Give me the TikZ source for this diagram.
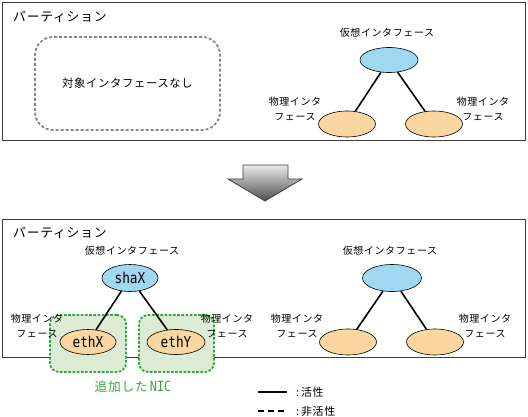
\documentclass[tikz,border=0pt]{standalone}
\usepackage{fontspec}
\newfontfamily\jp[LetterSpace=6]{Noto Sans CJK JP}
\newfontfamily\lat[FakeStretch=0.85]{DejaVu Sans Mono}
\usetikzlibrary{shapes.geometric}
\definecolor{blueF}{RGB}{160,216,242}
\definecolor{orangeF}{RGB}{250,215,160}
\definecolor{greenF}{RGB}{221,235,212}
\definecolor{greenD}{RGB}{40,170,60}
\definecolor{greenT}{RGB}{50,170,60}
\definecolor{dashG}{RGB}{135,135,135}
\definecolor{boxL}{RGB}{60,60,60}
\begin{document}
\begin{tikzpicture}[x=1pt,y=-1pt,
  partbox/.style={draw=boxL, line width=0.9pt, rectangle, inner sep=0pt, anchor=north west},
  ttl/.style={font=\jp\fontsize{12.8}{15}\selectfont, anchor=west, inner sep=0pt},
  vif/.style={ellipse, draw=black, line width=0.6pt, fill=blueF, minimum width=58pt, minimum height=26pt, inner sep=0pt, font=\lat\fontsize{15}{17}\selectfont},
  pif/.style={ellipse, draw=black, line width=0.6pt, fill=orangeF, minimum width=57pt, minimum height=26pt, inner sep=0pt, font=\lat\fontsize{15}{17}\selectfont},
  link/.style={line width=1.6pt, black},
  lbl/.style={font=\jp\fontsize{10}{15}\selectfont, align=center, inner sep=0pt},
  nicbox/.style={draw=greenD, fill=greenF, dash pattern=on 2.6pt off 1.6pt, line width=1.8pt, rounded corners=9pt, rectangle, inner sep=0pt},
  nonebox/.style={draw=dashG, dash pattern=on 3pt off 2pt, line width=1.8pt, rounded corners=18pt, rectangle, inner sep=0pt, font=\jp\fontsize{11.3}{14}\selectfont}
]
\useasboundingbox (0,0) rectangle (528,417);
% ---------- top partition ----------
\node[partbox, minimum width=523pt, minimum height=138pt] (part1) at (2,2) {};
\node[ttl] (t1) at (13,17) {パーティション};
\node[nonebox, minimum width=185pt, minimum height=93pt] (none) at (127.5,83.5) {対象インタフェースなし};
\node[lbl] (vl1) at (387,33) {仮想インタフェース};
\node[pif] (p1a) at (347,124) {};
\node[pif] (p1b) at (434,124) {};
\node[vif, minimum height=25pt] (v1) at (389,60) {};
\draw[link] (v1) -- (p1a);
\draw[link] (v1) -- (p1b);
\node[lbl] (l1a) at (295,108.5) {物理インタ\\フェース};
\node[lbl] (l1b) at (483,108.5) {物理インタ\\フェース};
% ---------- arrow ----------
\shade[top color=white!92!black, bottom color=black!70, draw=black!75, line width=0.8pt]
  (243,165) -- (288,165) -- (288,179) -- (302,179) -- (265,201) -- (228,179) -- (243,179) -- cycle;
% ---------- bottom partition ----------
\node[partbox, minimum width=523pt, minimum height=138pt] (part2) at (2,219) {};
\node[ttl] (t2) at (13,233) {パーティション};
\node[nicbox, minimum width=76pt, minimum height=57pt] (nic1) at (88,343.5) {};
\node[nicbox, minimum width=75pt, minimum height=57pt] (nic2) at (176.5,343.5) {};
\node[lbl] (vl2) at (132,251) {仮想インタフェース};
\node[vif, minimum width=56pt, minimum height=27pt] (sha) at (130,278) {shaX};
\node[pif, minimum width=56pt, minimum height=25pt] (ethx) at (88,342) {ethX};
\node[pif, minimum width=58pt, minimum height=25pt] (ethy) at (176,342) {ethY};
\draw[link] (sha) -- (ethx);
\draw[link] (sha) -- (ethy);
\node[lbl] (l2a) at (37,325.5) {物理インタ\\フェース};
\node[lbl] (l2b) at (227,325.5) {物理インタ\\フェース};
\node[font=\jp\fontsize{12.7}{15}\selectfont, text=greenT, inner sep=0pt] (nictxt) at (133,387) {追加した\,{\lat\fontsize{14}{15}\selectfont NIC}};
% right side
\node[lbl] (vl3) at (390,251) {仮想インタフェース};
\node[pif] (p3a) at (348,342) {};
\node[pif] (p3b) at (435,342) {};
\node[vif, minimum width=59pt, minimum height=27pt] (v3) at (392,278) {};
\draw[link] (v3) -- (p3a);
\draw[link] (v3) -- (p3b);
\node[lbl] (l3a) at (297,326) {物理インタ\\フェース};
\node[lbl] (l3b) at (485,326) {物理インタ\\フェース};
% ---------- legend ----------
\coordinate (ls1) at (258,392);
\coordinate (le1) at (287,392);
\coordinate (ls2) at (258,411);
\coordinate (le2) at (287,411);
\draw[line width=1.6pt] (ls1) -- (le1);
\draw[line width=1.6pt, dash pattern=on 6pt off 4pt] (ls2) -- (le2);
\node[font=\jp\fontsize{11}{13}\selectfont, anchor=west, inner sep=0pt] (lg1) at (296,392) {:\,活性};
\node[font=\jp\fontsize{11}{13}\selectfont, anchor=west, inner sep=0pt] (lg2) at (296,411) {:\,非活性};
\end{tikzpicture}
\end{document}
